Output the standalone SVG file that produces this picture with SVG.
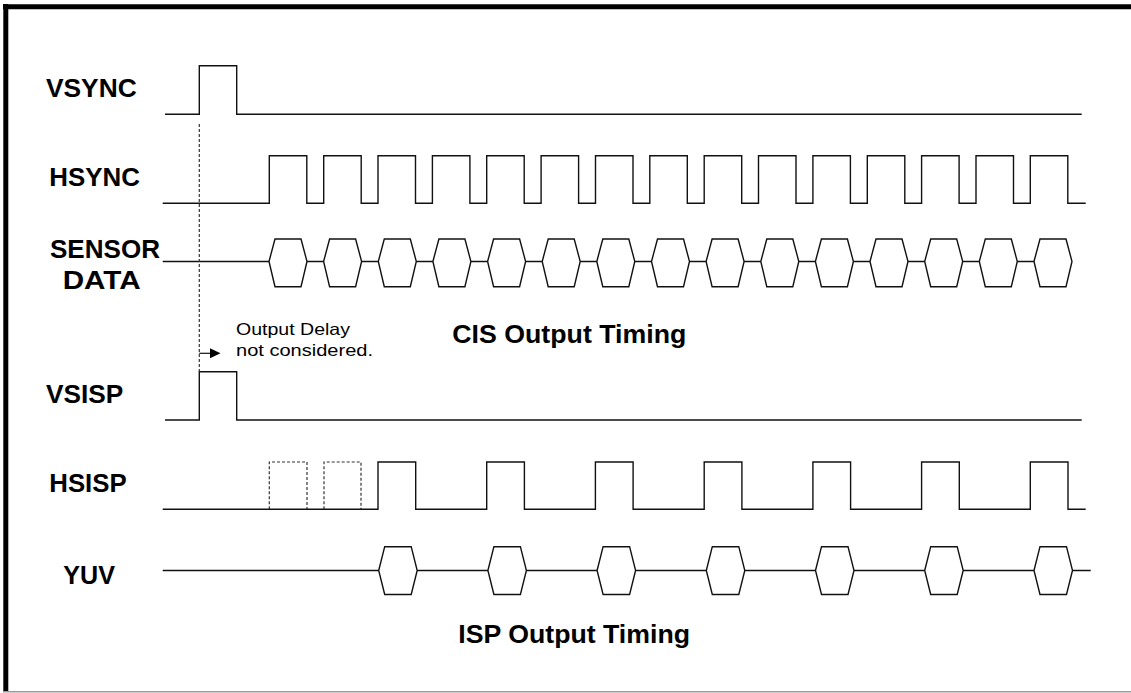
<svg xmlns="http://www.w3.org/2000/svg" width="1131" height="693" viewBox="0 0 1131 693">
<style>
.sig{fill:none;stroke:#111;stroke-width:1.4;stroke-linejoin:miter}
.dash{fill:none;stroke:#333;stroke-width:1.2;stroke-dasharray:3 2}
.lbl{font-family:"Liberation Sans",Arial,sans-serif;font-weight:bold;font-size:26px;fill:#000}
.note{font-family:"Liberation Sans",Arial,sans-serif;font-size:16.5px;fill:#000}
</style>
<rect x="0" y="0" width="1131" height="693" fill="#fff"/>
<g id="frame">
<line x1="3" y1="6.7" x2="1131" y2="6.7" stroke="#000" stroke-width="5"/>
<line x1="5.8" y1="4" x2="5.8" y2="692" stroke="#000" stroke-width="5"/>
<line x1="3" y1="691.7" x2="1131" y2="691.7" stroke="#999" stroke-width="1.5"/>
</g>
<g id="vsync">
<text class="lbl" x="46" y="96.7" textLength="90.7" lengthAdjust="spacingAndGlyphs">VSYNC</text>
<path class="sig" d="M165,114.3 H199.3 V65.7 H236.7 V114.3 H1081.7"/>
</g>
<g id="hsync">
<text class="lbl" x="49.3" y="186" textLength="90.7" lengthAdjust="spacingAndGlyphs">HSYNC</text>
<path class="sig" d="M162.7,203.3 H269.3 V155.7 H306.8 V203.3 H323.7 V155.7 H361.2 V203.3 H378 V155.7 H415.5 V203.3 H432.4 V155.7 H469.9 V203.3 H486.7 V155.7 H524.2 V203.3 H541.1 V155.7 H578.6 V203.3 H595.5 V155.7 H633 V203.3 H649.8 V155.7 H687.3 V203.3 H704.2 V155.7 H741.7 V203.3 H758.5 V155.7 H796 V203.3 H812.9 V155.7 H850.4 V203.3 H867.3 V155.7 H904.8 V203.3 H921.6 V155.7 H959.1 V203.3 H976 V155.7 H1013.5 V203.3 H1030.3 V155.7 H1067.8 V203.3 H1085.7"/>
</g>
<g id="sensor-data">
<text class="lbl" x="50" y="258.3" textLength="110" lengthAdjust="spacingAndGlyphs">SENSOR</text>
<text class="lbl" x="62.7" y="288.7" textLength="78" lengthAdjust="spacingAndGlyphs">DATA</text>
<path class="sig" d="M162.7,261.5 H269
M269,261.5 L275,239 H301 L307,261.5 L301,286.7 H275 Z M307,261.5 H323.6
M323.6,261.5 L329.6,239 H355.6 L361.6,261.5 L355.6,286.7 H329.6 Z M361.6,261.5 H378.3
M378.3,261.5 L384.3,239 H410.3 L416.3,261.5 L410.3,286.7 H384.3 Z M416.3,261.5 H432.9
M432.9,261.5 L438.9,239 H464.9 L470.9,261.5 L464.9,286.7 H438.9 Z M470.9,261.5 H487.6
M487.6,261.5 L493.6,239 H519.6 L525.6,261.5 L519.6,286.7 H493.6 Z M525.6,261.5 H542.2
M542.2,261.5 L548.2,239 H574.2 L580.2,261.5 L574.2,286.7 H548.2 Z M580.2,261.5 H596.8
M596.8,261.5 L602.8,239 H628.8 L634.8,261.5 L628.8,286.7 H602.8 Z M634.8,261.5 H651.5
M651.5,261.5 L657.5,239 H683.5 L689.5,261.5 L683.5,286.7 H657.5 Z M689.5,261.5 H706.1
M706.1,261.5 L712.1,239 H738.1 L744.1,261.5 L738.1,286.7 H712.1 Z M744.1,261.5 H760.8
M760.8,261.5 L766.8,239 H792.8 L798.8,261.5 L792.8,286.7 H766.8 Z M798.8,261.5 H815.4
M815.4,261.5 L821.4,239 H847.4 L853.4,261.5 L847.4,286.7 H821.4 Z M853.4,261.5 H870
M870,261.5 L876,239 H902 L908,261.5 L902,286.7 H876 Z M908,261.5 H924.7
M924.7,261.5 L930.7,239 H956.7 L962.7,261.5 L956.7,286.7 H930.7 Z M962.7,261.5 H979.3
M979.3,261.5 L985.3,239 H1011.3 L1017.3,261.5 L1011.3,286.7 H985.3 Z M1017.3,261.5 H1034
M1034,261.5 L1040,239 H1066 L1072,261.5 L1066,286.7 H1040 Z"/>
</g>
<g id="note-output-delay">
<text class="note" x="236" y="335" textLength="114" lengthAdjust="spacingAndGlyphs">Output Delay</text>
<text class="note" x="236" y="356" textLength="137" lengthAdjust="spacingAndGlyphs">not considered.</text>
</g>
<g id="title-cis">
<text class="lbl" x="452.3" y="343.3" textLength="234" lengthAdjust="spacingAndGlyphs">CIS Output Timing</text>
</g>
<g id="vsisp">
<text class="lbl" x="46" y="403.3" textLength="77.3" lengthAdjust="spacingAndGlyphs">VSISP</text>
<path class="sig" d="M165,420 H199.3 V371.7 H236.7 V420 H1081.7"/>
</g>
<g id="hsisp">
<text class="lbl" x="49.3" y="491.7" textLength="77.4" lengthAdjust="spacingAndGlyphs">HSISP</text>
<path class="dash" d="M269.3,509.3 V462 H307 V509.3 M324,509.3 V462 H361 V509.3"/>
<path class="sig" d="M162.7,509.3 H378 V462 H415.7 V509.3 H486.7 V462 H524.4 V509.3 H595.4 V462 H633.1 V509.3 H704.2 V462 H741.9 V509.3 H812.9 V462 H850.6 V509.3 H921.6 V462 H959.3 V509.3 H1030.3 V462 H1068 V509.3 H1085.7"/>
</g>
<g id="yuv">
<text class="lbl" x="63.3" y="584.3" textLength="51.7" lengthAdjust="spacingAndGlyphs">YUV</text>
<path class="sig" d="M162.7,570.5 H378.7
M378.7,570.5 L384.7,546.7 H411.2 L417.2,570.5 L411.2,594.5 H384.7 Z M417.2,570.5 H487.9
M487.9,570.5 L493.9,546.7 H520.4 L526.4,570.5 L520.4,594.5 H493.9 Z M526.4,570.5 H597.1
M597.1,570.5 L603.1,546.7 H629.6 L635.6,570.5 L629.6,594.5 H603.1 Z M635.6,570.5 H706.3
M706.3,570.5 L712.3,546.7 H738.8 L744.8,570.5 L738.8,594.5 H712.3 Z M744.8,570.5 H815.5
M815.5,570.5 L821.5,546.7 H848 L854,570.5 L848,594.5 H821.5 Z M854,570.5 H924.7
M924.7,570.5 L930.7,546.7 H957.2 L963.2,570.5 L957.2,594.5 H930.7 Z M963.2,570.5 H1034
M1034,570.5 L1040,546.7 H1066.5 L1072.5,570.5 L1066.5,594.5 H1040 Z M1072.5,570.5 H1090.7"/>
</g>
<g id="title-isp">
<text class="lbl" x="458.3" y="642.7" textLength="231.7" lengthAdjust="spacingAndGlyphs">ISP Output Timing</text>
</g>
<g id="connectors">
<line class="dash" x1="199.3" y1="124" x2="199.3" y2="371.7"/>
<line x1="199.3" y1="353.3" x2="211" y2="353.3" stroke="#111" stroke-width="1.2"/>
<polygon points="210,348.3 220.5,353.3 210,358.3" fill="#000"/>
</g>
</svg>
